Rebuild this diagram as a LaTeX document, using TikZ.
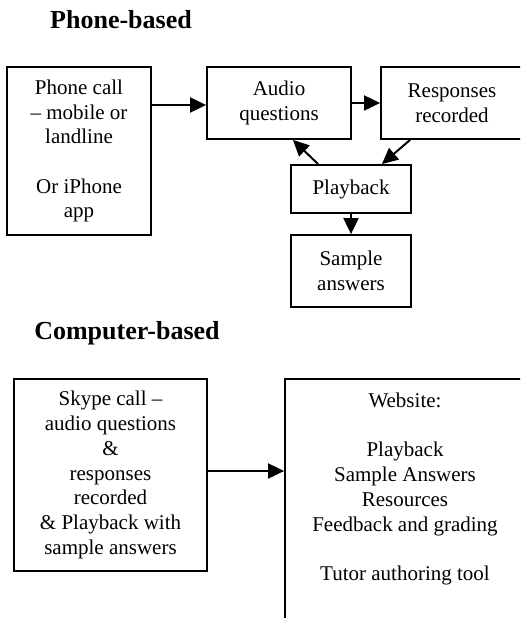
\documentclass[tikz,border=0pt]{standalone}
\usepackage{fontspec}
\setmainfont{Liberation Serif}
\usetikzlibrary{arrows.meta}
\tikzset{
  box/.style={draw, line width=1.8pt, inner sep=0pt, align=center,
    font=\fontsize{21}{24.7}\selectfont},
  plain/.style={inner sep=0pt, align=center, font=\fontsize{21}{24.7}\selectfont},
  flow/.style={line width=2pt, -{Triangle[length=16pt,width=15pt]}},
  heading/.style={inner sep=0pt, font=\fontsize{26}{30}\selectfont\bfseries}
}
\begin{document}
\begin{tikzpicture}[x=1pt,y=-1pt]
\useasboundingbox (0,0) rectangle (520,618);
\clip (0,0) rectangle (520,618);

% phone-based flow
\node[heading] (phonehead) at (121,20) {Phone-based};
\node[box, minimum width=144pt, minimum height=168pt] (phone) at (79,151)
  {Phone call\\– mobile or\\landline\\[24.7pt]Or iPhone\\app};
\node[box, minimum width=144pt, minimum height=72pt] (audio) at (279,103)
  {Audio\\questions};
\node[box, minimum width=142pt, minimum height=72pt] (resp) at (452,103)
  {Responses\\recorded};
\node[box, minimum width=120pt, minimum height=48pt] (play) at (351,189)
  {Playback};
\node[box, minimum width=120pt, minimum height=72pt] (sample) at (351,271)
  {Sample\\answers};

\draw[flow] (phone.east |- 0,105) -- (audio.west |- 0,105);
\draw[flow] (audio.east) -- (resp.west);
\draw[flow] ([xshift=30pt]resp.south west) -- ([xshift=-30pt]play.north east);
\draw[flow] ([xshift=28pt]play.north west) -- ([xshift=-59pt]audio.south east);
\draw[flow] (play.south) -- (sample.north);

% computer-based flow
\node[heading] (comphead) at (127,333) {Computer-based};
\node[box, minimum width=193pt, minimum height=192pt] (skype) at (110.5,475)
  {Skype call –\\audio questions\\\&\\responses\\recorded\\\& Playback with\\sample answers};
\node[box, minimum width=240pt, minimum height=261pt] (website) at (405,509.5) {};
\node[plain] (webtext) at (405,489)
  {Website:\\[24.7pt]Playback\\Sample Answers\\Resources\\Feedback and grading\\[24.7pt]Tutor authoring tool};

\draw[flow] (skype.east |- 0,471) -- (website.west |- 0,471);
\end{tikzpicture}
\end{document}
